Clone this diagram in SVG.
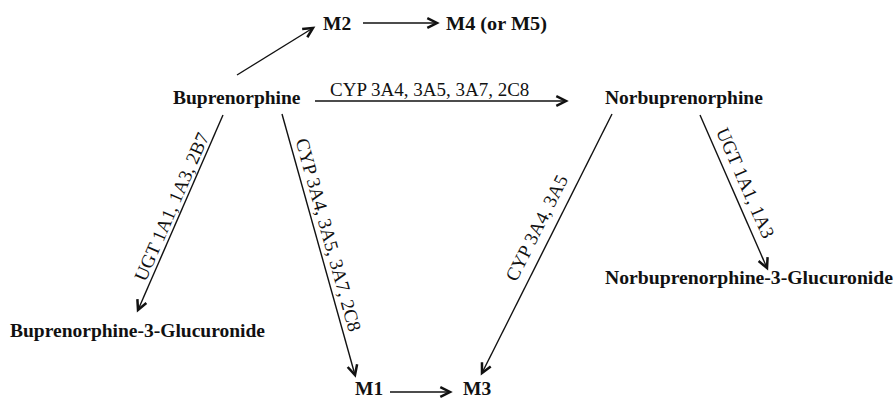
<svg xmlns="http://www.w3.org/2000/svg" width="896" height="400" viewBox="0 0 896 400">
  <defs>
    <marker id="arrow" markerUnits="userSpaceOnUse" markerWidth="16" markerHeight="16" refX="10.5" refY="5.5" orient="auto" overflow="visible">
      <path d="M0.8,0.6 L10.5,5.5 L0.8,10.4" fill="none" stroke="#111" stroke-width="2.5" stroke-linejoin="miter" stroke-linecap="butt"/>
    </marker>
  </defs>
  <style>
    .node text { font-family: "Liberation Serif", "Times New Roman", serif; font-weight: bold; font-size: 19.5px; fill: #111; }
    .lbl { font-family: "Liberation Serif", "Times New Roman", serif; font-size: 19px; fill: #111; }
    .conn line { stroke: #111; stroke-width: 1.4; fill: none; marker-end: url(#arrow); }
  </style>
  <rect width="896" height="400" fill="#ffffff"/>

  <!-- compounds -->
  <g id="buprenorphine" class="node"><text x="173" y="103.5">Buprenorphine</text></g>
  <g id="norbuprenorphine" class="node"><text x="605" y="104">Norbuprenorphine</text></g>
  <g id="m2" class="node"><text x="323" y="29.5">M2</text></g>
  <g id="m4" class="node"><text x="446" y="29.5" textLength="101" lengthAdjust="spacingAndGlyphs">M4 (or M5)</text></g>
  <g id="bup-glucuronide" class="node"><text x="10" y="337">Buprenorphine-3-Glucuronide</text></g>
  <g id="norbup-glucuronide" class="node"><text x="605" y="284" textLength="288" lengthAdjust="spacingAndGlyphs">Norbuprenorphine-3-Glucuronide</text></g>
  <g id="m1" class="node"><text x="355" y="395">M1</text></g>
  <g id="m3" class="node"><text x="463" y="395">M3</text></g>

  <!-- reactions -->
  <g id="connectors" class="conn">
    <line x1="237" y1="75" x2="313" y2="28"/>
    <line x1="363" y1="23" x2="437" y2="23"/>
    <line x1="315" y1="101" x2="566" y2="101"/>
    <line x1="223" y1="115" x2="138" y2="310"/>
    <line x1="282" y1="114" x2="355" y2="375"/>
    <line x1="390" y1="392" x2="450" y2="392"/>
    <line x1="612" y1="114" x2="482" y2="373"/>
    <line x1="700" y1="115" x2="767" y2="268"/>
  </g>

  <!-- enzyme labels -->
  <g id="enzymes">
    <text class="lbl" x="330" y="96">CYP 3A4, 3A5, 3A7, 2C8</text>
    <text class="lbl" text-anchor="middle" transform="translate(177.5 209.4) rotate(-66.4)">UGT 1A1, 1A3, 2B7</text>
    <text class="lbl" text-anchor="middle" transform="translate(322.2 236.6) rotate(74.4)">CYP 3A4, 3A5, 3A7, 2C8</text>
    <text class="lbl" text-anchor="middle" transform="translate(542.4 230.7) rotate(-63.3)">CYP 3A4, 3A5</text>
    <text class="lbl" text-anchor="middle" transform="translate(739.5 185.4) rotate(66.4)">UGT 1A1, 1A3</text>
  </g>
</svg>
